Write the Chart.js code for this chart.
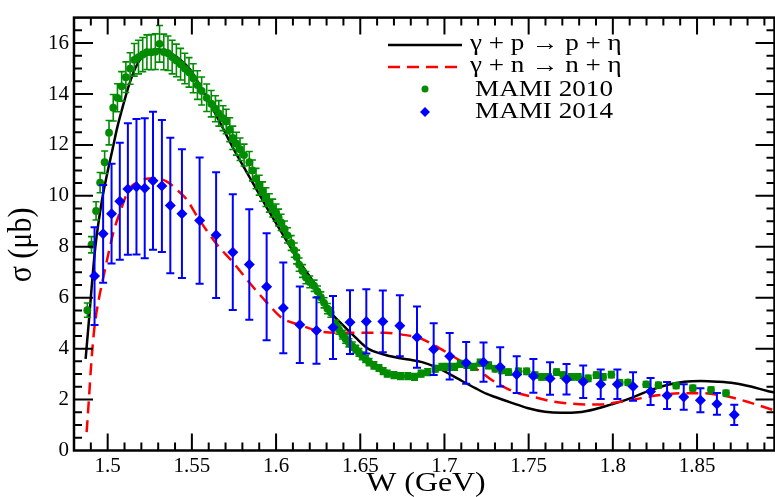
<!DOCTYPE html>
<html>
<head>
<meta charset="utf-8">
<script src="https://cdn.jsdelivr.net/npm/chart.js@4.4.1/dist/chart.umd.min.js"></script>
<style>
  html, body { margin: 0; padding: 0; overflow: hidden; background: #fff; }
  #wrap { width: 780px; height: 497px; }
</style>
</head>
<body>
<div id="wrap"><canvas id="eta-chart" width="780" height="497"></canvas></div>
<script>
// MAMI 2010 (proton target), W in GeV, sigma in microbarn
const mami2010W = [
  1.4879, 1.4904, 1.4931, 1.4955, 1.4982, 1.5008, 1.5033, 1.5058, 1.5083, 1.5108,
  1.5133, 1.5158, 1.5183, 1.5208, 1.5233, 1.5258, 1.5283, 1.5308, 1.5333, 1.5358,
  1.5383, 1.5408, 1.5433, 1.5458, 1.5483, 1.5508, 1.5533, 1.5558, 1.5588, 1.5615,
  1.5640, 1.5660, 1.5685, 1.5704, 1.5725, 1.5743, 1.5765, 1.5786, 1.5810, 1.5841,
  1.5860, 1.5881, 1.5900, 1.5920, 1.5940, 1.5960, 1.5980, 1.6000, 1.6015, 1.6030,
  1.6050, 1.6068, 1.6090, 1.6108, 1.6122, 1.6137, 1.6157, 1.6177, 1.6200, 1.6226,
  1.6246, 1.6266, 1.6285, 1.6305, 1.6325, 1.6354, 1.6374, 1.6394, 1.6413, 1.6433,
  1.6453, 1.6473, 1.6492, 1.6512, 1.6532, 1.6552, 1.6581, 1.6611, 1.6636, 1.6660,
  1.6700, 1.6739, 1.6782, 1.6822, 1.6861, 1.6900, 1.6946, 1.6985, 1.7021, 1.7060,
  1.7094, 1.7133, 1.7173, 1.7212, 1.7262, 1.7301, 1.7340, 1.7380, 1.7439, 1.7488,
  1.7538, 1.7577, 1.7617, 1.7666, 1.7705, 1.7754, 1.7794, 1.7853, 1.7902, 1.7942,
  1.7991, 1.8041, 1.8090, 1.8198, 1.8271, 1.8376, 1.8475, 1.8583, 1.8672
];
const mami2010Sigma = [
  5.51, 8.08, 9.41, 10.52, 11.32, 12.48, 13.46, 13.85, 14.30, 14.66,
  15.00, 15.34, 15.45, 15.55, 15.64, 15.64, 15.66, 15.97, 15.65, 15.60,
  15.45, 15.32, 15.17, 15.00, 14.85, 14.62, 14.35, 14.12, 13.85, 13.62,
  13.42, 13.24, 13.05, 12.92, 12.60, 12.28, 12.05, 11.83, 11.60, 11.32,
  11.00, 10.68, 10.42, 10.17, 9.95, 9.72, 9.52, 9.34, 9.15, 8.96,
  8.70, 8.45, 8.15, 7.87, 7.60, 7.30, 7.05, 6.79, 6.62, 6.47,
  6.25, 6.02, 5.80, 5.57, 5.42, 4.94, 4.75, 4.55, 4.38, 4.23,
  4.10, 3.98, 3.85, 3.72, 3.60, 3.47, 3.34, 3.24, 3.12, 3.02,
  2.96, 2.92, 2.92, 2.89, 3.02, 3.08, 3.21, 3.28, 3.28, 3.28,
  3.40, 3.36, 3.28, 3.45, 3.34, 3.21, 3.15, 3.08, 3.11, 3.11,
  2.96, 2.89, 2.89, 3.08, 2.96, 2.89, 2.89, 2.83, 2.96, 2.89,
  2.98, 2.66, 2.67, 2.60, 2.57, 2.55, 2.45, 2.38, 2.25
];
const mami2010Err = [
  0.28, 0.32, 0.36, 0.40, 0.44, 0.48, 0.52, 0.55, 0.58, 0.60,
  0.62, 0.64, 0.66, 0.67, 0.68, 0.69, 0.70, 0.72, 0.70, 0.68,
  0.66, 0.64, 0.62, 0.60, 0.58, 0.57, 0.56, 0.55, 0.54, 0.52,
  0.51, 0.50, 0.49, 0.48, 0.47, 0.46, 0.45, 0.44, 0.43, 0.42,
  0.41, 0.40, 0.39, 0.38, 0.37, 0.36, 0.35, 0.34, 0.33, 0.32,
  0.31, 0.30, 0.29, 0.28, 0.27, 0.26, 0.25, 0.24, 0.23, 0.22,
  0.21, 0.21, 0.20, 0.20, 0.19, 0.18, 0.18, 0.17, 0.17, 0.16,
  0.16, 0.15, 0.15, 0.15, 0.14, 0.14, 0.14, 0.13, 0.13, 0.13,
  0.13, 0.13, 0.13, 0.13, 0.13, 0.13, 0.13, 0.13, 0.13, 0.13,
  0.13, 0.13, 0.13, 0.13, 0.13, 0.12, 0.12, 0.12, 0.12, 0.12,
  0.12, 0.12, 0.12, 0.12, 0.12, 0.12, 0.12, 0.12, 0.12, 0.12,
  0.12, 0.11, 0.11, 0.11, 0.11, 0.11, 0.11, 0.11, 0.11
];

// MAMI 2014 (neutron target)
const mami2014W = [
  1.4922, 1.4973, 1.5023, 1.5072, 1.5120, 1.5171, 1.5220, 1.5269, 1.5322, 1.5372,
  1.5441, 1.5546, 1.5644, 1.5743, 1.5841, 1.5944, 1.6043, 1.6141, 1.6240, 1.6338,
  1.6439, 1.6536, 1.6634, 1.6735, 1.6837, 1.6936, 1.7031, 1.7129, 1.7232, 1.7331,
  1.7429, 1.7528, 1.7627, 1.7725, 1.7824, 1.7928, 1.8027, 1.8120, 1.8224, 1.8322,
  1.8421, 1.8520, 1.8618, 1.8721
];
const mami2014Sigma = [
  6.85, 8.51, 9.30, 9.79, 10.27, 10.36, 10.30, 10.59, 10.39, 9.62,
  9.30, 9.03, 8.46, 7.79, 7.30, 6.43, 5.60, 4.94, 4.71, 4.83,
  5.04, 5.07, 5.07, 4.90, 4.45, 3.98, 3.70, 3.44, 3.47, 3.28,
  2.98, 2.93, 2.83, 2.80, 2.70, 2.60, 2.60, 2.51, 2.32, 2.16,
  2.10, 1.97, 1.83, 1.40
];
const mami2014Err = [
  1.92, 1.92, 1.96, 2.30, 2.58, 2.66, 2.75, 2.71, 2.59, 2.66,
  2.53, 2.48, 2.47, 2.27, 2.17, 2.10, 1.78, 1.50, 1.30, 1.24,
  1.25, 1.26, 1.21, 1.20, 1.20, 1.02, 0.91, 0.82, 0.77, 0.77,
  0.72, 0.66, 0.64, 0.60, 0.64, 0.58, 0.58, 0.56, 0.53, 0.53,
  0.50, 0.47, 0.43, 0.40
];

// model curve, gamma + p -> p + eta
const protonCurveW = [
  1.4869, 1.4889, 1.4908, 1.4928, 1.4968, 1.4997, 1.5027, 1.5056, 1.5092, 1.5125,
  1.5165, 1.5204, 1.5244, 1.5300, 1.5372, 1.5431, 1.5490, 1.5550, 1.5664, 1.5743,
  1.5841, 1.5940, 1.6038, 1.6137, 1.6236, 1.6315, 1.6394, 1.6473, 1.6551, 1.6630,
  1.6709, 1.6788, 1.6867, 1.6946, 1.7025, 1.7104, 1.7183, 1.7252, 1.7301, 1.7400,
  1.7498, 1.7597, 1.7695, 1.7794, 1.7893, 1.7991, 1.8090, 1.8228, 1.8327, 1.8425,
  1.8524, 1.8623, 1.8721, 1.8820, 1.8918, 1.8960
];
const protonCurveSigma = [
  3.60, 5.13, 6.66, 8.07, 9.90, 10.87, 11.77, 12.66, 13.56, 14.32,
  15.03, 15.45, 15.66, 15.75, 15.60, 15.35, 14.96, 14.30, 12.92, 11.90,
  10.75, 9.60, 8.51, 7.43, 6.47, 5.51, 4.94, 4.43, 3.98, 3.79,
  3.66, 3.57, 3.47, 3.28, 3.02, 2.73, 2.45, 2.22, 2.10, 1.87,
  1.66, 1.52, 1.48, 1.50, 1.62, 1.81, 2.02, 2.38, 2.58, 2.70,
  2.73, 2.70, 2.64, 2.51, 2.34, 2.28
];

// model curve, gamma + n -> n + eta
const neutronCurveW = [
  1.4875, 1.4889, 1.4903, 1.4922, 1.4948, 1.4978, 1.5007, 1.5037, 1.5076, 1.5125,
  1.5185, 1.5244, 1.5293, 1.5352, 1.5411, 1.5470, 1.5530, 1.5644, 1.5743, 1.5841,
  1.5940, 1.6038, 1.6137, 1.6256, 1.6354, 1.6512, 1.6650, 1.6749, 1.6847, 1.6946,
  1.7045, 1.7143, 1.7202, 1.7281, 1.7360, 1.7439, 1.7538, 1.7636, 1.7735, 1.7834,
  1.7932, 1.8031, 1.8129, 1.8228, 1.8327, 1.8425, 1.8524, 1.8623, 1.8721, 1.8820,
  1.8938, 1.8960
];
const neutronCurveSigma = [
  0.72, 2.06, 3.47, 4.87, 5.96, 6.92, 7.81, 8.64, 9.41, 10.24,
  10.56, 10.68, 10.68, 10.56, 10.24, 9.85, 9.21, 8.13, 7.40, 6.60,
  5.85, 5.19, 4.94, 4.68, 4.62, 4.62, 4.62, 4.55, 4.43, 4.11,
  3.72, 3.34, 3.15, 2.77, 2.47, 2.25, 2.09, 1.93, 1.85, 1.81,
  1.81, 1.90, 2.00, 2.13, 2.21, 2.25, 2.25, 2.19, 2.06, 1.87,
  1.62, 1.57
];

const xTickValues = [1.5, 1.55, 1.6, 1.65, 1.7, 1.75, 1.8, 1.85];
const xTickLabels = ['1.5', '1.55', '1.6', '1.65', '1.7', '1.75', '1.8', '1.85'];
const yTickValues = [0, 2, 4, 6, 8, 10, 12, 14, 16];
const yTickLabels = ['0', '2', '4', '6', '8', '10', '12', '14', '16'];
const seriesLabels = ['\u03B3 + p \u2192 p + \u03B7', '\u03B3 + n \u2192 n + \u03B7', 'MAMI 2010', 'MAMI 2014'];

const SERIF = '"Liberation Serif", "Times New Roman", serif';
const GREEN = '#008b00';
const BLUE = '#0000ff';
const RED = '#ff0000';

function toPoints(xs, ys) {
  return xs.map((x, i) => ({ x: x, y: ys[i] }));
}

// text drawn a little wider than the font, like the original figure
function stretchedText(ctx, str, x, y, size, align) {
  ctx.save();
  ctx.font = size + 'px ' + SERIF;
  ctx.fillStyle = '#000';
  ctx.textBaseline = 'middle';
  ctx.textAlign = align || 'left';
  ctx.translate(x, y);
  ctx.scale(1.18, 1);
  ctx.fillText(str, 0, 0);
  ctx.restore();
}

const errorBars = {
  id: 'errorBars',
  beforeDatasetDraw(chart, args) {
    const ds = chart.data.datasets[args.index];
    if (!ds.errors) return;
    const ctx = chart.ctx;
    const xs = chart.scales.x, ys = chart.scales.y;
    const area = chart.chartArea;
    ctx.save();
    ctx.beginPath();
    ctx.rect(area.left, area.top, area.right - area.left, area.bottom - area.top);
    ctx.clip();
    ctx.strokeStyle = ds.backgroundColor;
    ctx.lineWidth = ds.errorWidth;
    const cap = ds.capHalf;
    ds.data.forEach((p, i) => {
      const px = xs.getPixelForValue(p.x);
      const top = ys.getPixelForValue(p.y + ds.errors[i]);
      const bot = ys.getPixelForValue(p.y - ds.errors[i]);
      ctx.beginPath();
      ctx.moveTo(px, top); ctx.lineTo(px, bot);
      ctx.moveTo(px - cap, top); ctx.lineTo(px + cap, top);
      ctx.moveTo(px - cap, bot); ctx.lineTo(px + cap, bot);
      ctx.stroke();
    });
    ctx.restore();
  }
};

const frameAndLegend = {
  id: 'frameAndLegend',
  afterDraw(chart) {
    const ctx = chart.ctx;
    const a = chart.chartArea;
    const xs = chart.scales.x, ys = chart.scales.y;
    ctx.save();
    ctx.strokeStyle = '#000';

    // inward ticks on all four sides
    ctx.lineWidth = 2;
    for (let k = Math.ceil(xs.min / 0.01); k * 0.01 <= xs.max; k++) {
      const v = k * 0.01;
      const major = k % 5 === 0;
      const len = major ? 17 : 8;
      const px = xs.getPixelForValue(v);
      ctx.beginPath();
      ctx.moveTo(px, a.bottom); ctx.lineTo(px, a.bottom - len);
      ctx.moveTo(px, a.top); ctx.lineTo(px, a.top + len);
      ctx.stroke();
    }
    for (let k = 1; k * 0.5 < ys.max; k++) {
      const major = k % 4 === 0;
      const len = major ? 19 : 8;
      const py = ys.getPixelForValue(k * 0.5);
      ctx.beginPath();
      ctx.moveTo(a.left, py); ctx.lineTo(a.left + len, py);
      ctx.moveTo(a.right, py); ctx.lineTo(a.right - len, py);
      ctx.stroke();
    }
    ctx.lineWidth = 2.5;
    ctx.strokeRect(a.left, a.top, a.right - a.left, a.bottom - a.top);

    // axis titles
    stretchedText(ctx, 'W (GeV)', 426, 484, 27, 'center');
    ctx.save();
    ctx.translate(22, 245);
    ctx.rotate(-Math.PI / 2);
    ctx.scale(1, 1.15);
    ctx.font = '30px ' + SERIF;
    ctx.fillStyle = '#000';
    ctx.textAlign = 'center';
    ctx.textBaseline = 'middle';
    ctx.fillText('\u03C3 (\u03BCb)', 0, 0);
    ctx.restore();

    // legend
    ctx.lineWidth = 2.5;
    ctx.strokeStyle = '#000';
    ctx.beginPath(); ctx.moveTo(388, 45); ctx.lineTo(462, 45); ctx.stroke();
    ctx.strokeStyle = RED;
    ctx.setLineDash([12, 7]);
    ctx.beginPath(); ctx.moveTo(388, 67); ctx.lineTo(462, 67); ctx.stroke();
    ctx.setLineDash([]);
    ctx.fillStyle = GREEN;
    ctx.beginPath(); ctx.arc(425, 89, 3.5, 0, Math.PI * 2); ctx.fill();
    ctx.fillStyle = BLUE;
    ctx.beginPath();
    ctx.moveTo(425, 107); ctx.lineTo(430, 112); ctx.lineTo(425, 117); ctx.lineTo(420, 112);
    ctx.closePath(); ctx.fill();

    stretchedText(ctx, seriesLabels[0], 470, 44, 23);
    stretchedText(ctx, seriesLabels[1], 470, 66, 23);
    stretchedText(ctx, seriesLabels[2], 475, 90, 23);
    stretchedText(ctx, seriesLabels[3], 475, 112, 23);
    ctx.restore();
  }
};

new Chart(document.getElementById('eta-chart'), {
  type: 'scatter',
  data: {
    datasets: [
      {
        label: seriesLabels[3],
        data: toPoints(mami2014W, mami2014Sigma),
        errors: mami2014Err,
        errorWidth: 2,
        capHalf: 4,
        backgroundColor: BLUE,
        borderWidth: 0,
        pointStyle: 'rectRot',
        pointRadius: 5.5,
        order: 0
      },
      {
        label: seriesLabels[2],
        data: toPoints(mami2010W, mami2010Sigma),
        errors: mami2010Err,
        errorWidth: 1.6,
        capHalf: 3.5,
        backgroundColor: GREEN,
        borderWidth: 0,
        pointStyle: 'circle',
        pointRadius: 3.9,
        order: 1
      },
      {
        label: seriesLabels[1],
        data: toPoints(neutronCurveW, neutronCurveSigma),
        showLine: true,
        borderColor: RED,
        borderWidth: 2.5,
        borderDash: [12, 7],
        pointRadius: 0,
        cubicInterpolationMode: 'monotone',
        order: 2
      },
      {
        label: seriesLabels[0],
        data: toPoints(protonCurveW, protonCurveSigma),
        showLine: true,
        borderColor: '#000',
        borderWidth: 2.5,
        pointRadius: 0,
        cubicInterpolationMode: 'monotone',
        order: 3
      }
    ]
  },
  options: {
    responsive: false,
    animation: false,
    devicePixelRatio: 1,
    layout: { padding: { top: 7, right: 3, left: 0, bottom: 0 } },
    plugins: {
      legend: { display: false },
      tooltip: { enabled: false }
    },
    scales: {
      x: {
        type: 'linear',
        min: 1.48,
        max: 1.896,
        grid: { display: false, drawTicks: false },
        border: { display: false },
        afterBuildTicks: function(scale) {
          scale.ticks = xTickValues.map(v => ({ value: v }));
        },
        afterFit: function(scale) { scale.height = 46.5; },
        ticks: {
          autoSkip: false,
          maxRotation: 0,
          padding: 3,
          color: '#000',
          font: { family: SERIF, size: 21 },
          callback: function(value, index) { return xTickLabels[index]; }
        }
      },
      y: {
        min: 0,
        max: 17,
        grid: { display: false, drawTicks: false },
        border: { display: false },
        afterBuildTicks: function(scale) {
          scale.ticks = yTickValues.map(v => ({ value: v }));
        },
        afterFit: function(scale) { scale.width = 74; },
        ticks: {
          padding: 5,
          color: '#000',
          font: { family: SERIF, size: 21 },
          callback: function(value, index) { return yTickLabels[index]; }
        }
      }
    }
  },
  plugins: [errorBars, frameAndLegend]
});
</script>
</body>
</html>
